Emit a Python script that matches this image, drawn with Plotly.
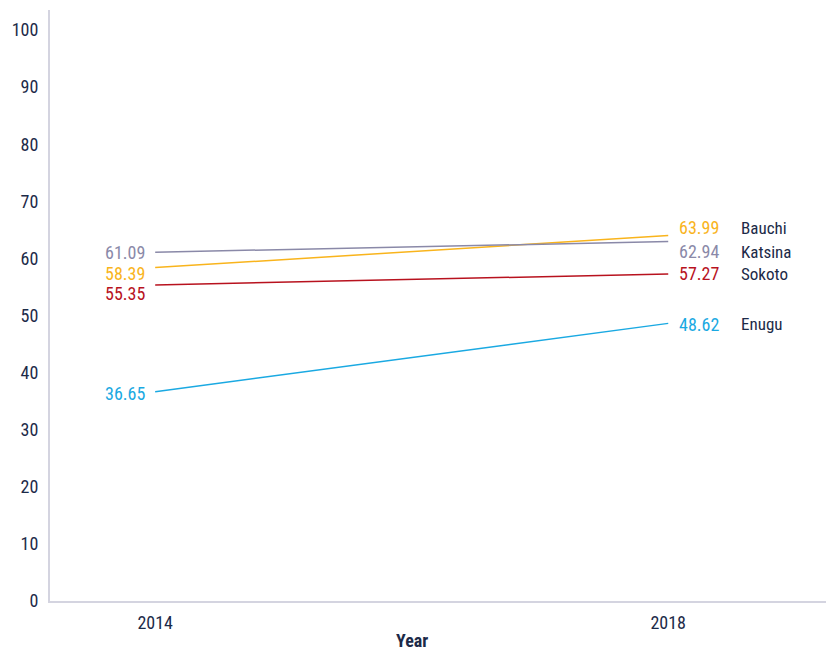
import plotly.graph_objects as go

years = [2014, 2018]
states = ["Bauchi", "Katsina", "Sokoto", "Enugu"]
bauchi = [58.39, 63.99]
katsina = [61.09, 62.94]
sokoto = [55.35, 57.27]
enugu = [36.65, 48.62]
y_ticks = [0, 10, 20, 30, 40, 50, 60, 70, 80, 90, 100]

series = {"Bauchi": bauchi, "Katsina": katsina, "Sokoto": sokoto, "Enugu": enugu}
colors = {"Bauchi": "#f9b41c", "Katsina": "#8a89a8", "Sokoto": "#b8121e", "Enugu": "#1aa9e2"}
# pixel nudges keeping the end labels from colliding
left_shift = {"Bauchi": -6, "Katsina": 0, "Sokoto": -9, "Enugu": -2}
right_shift = {"Bauchi": 8, "Katsina": -10, "Sokoto": 0, "Enugu": -1}

FONT = "Liberation Sans Narrow, Roboto Condensed, Open Sans, sans-serif"
TEXT = "#1c2a48"

fig = go.Figure()
for name in states:
    vals = series[name]
    fig.add_trace(go.Scatter(x=years, y=vals, mode="lines", name=name,
                             line=dict(color=colors[name], width=1.5),
                             showlegend=False, hoverinfo="skip"))
    fig.add_annotation(x=years[0], y=vals[0], text=f"{vals[0]:.2f}", showarrow=False,
                       xanchor="right", xshift=-8, yshift=left_shift[name],
                       font=dict(family=FONT, size=18, color=colors[name]))
    fig.add_annotation(x=years[1], y=vals[1], text=f"{vals[1]:.2f}", showarrow=False,
                       xanchor="left", xshift=9, yshift=right_shift[name],
                       font=dict(family=FONT, size=18, color=colors[name]))
    fig.add_annotation(x=years[1], y=vals[1], text=name, showarrow=False,
                       xanchor="left", xshift=71, yshift=right_shift[name],
                       font=dict(family=FONT, size=17, color=TEXT))

# x-axis title, centred between the two survey years
fig.add_annotation(x=sum(years) / 2, xref="x", y=0, yref="paper", text="<b>Year</b>",
                   showarrow=False, yanchor="bottom", yshift=-51, borderpad=0,
                   font=dict(family=FONT, size=18, color=TEXT))

fig.update_layout(
    width=826, height=651,
    margin=dict(l=50, r=0, t=10, b=50, autoexpand=False),
    paper_bgcolor="white", plot_bgcolor="white",
    font=dict(family=FONT, size=18, color=TEXT),
    xaxis=dict(range=[2013.18, 2019.23], tickvals=years, ticktext=[str(y) for y in years],
               showgrid=False, zeroline=False, showline=True, linecolor="#d4d4e0",
               linewidth=2, ticks="", tickfont=dict(size=18, color=TEXT),
               ticklabelstandoff=4, automargin=False),
    yaxis=dict(range=[0, 103.5], tickvals=y_ticks, showgrid=False, zeroline=False,
               showline=True, linecolor="#d4d4e0", linewidth=2, ticks="",
               tickfont=dict(size=18, color=TEXT), ticklabelstandoff=6, automargin=False),
)

fig.write_html("out.html")
